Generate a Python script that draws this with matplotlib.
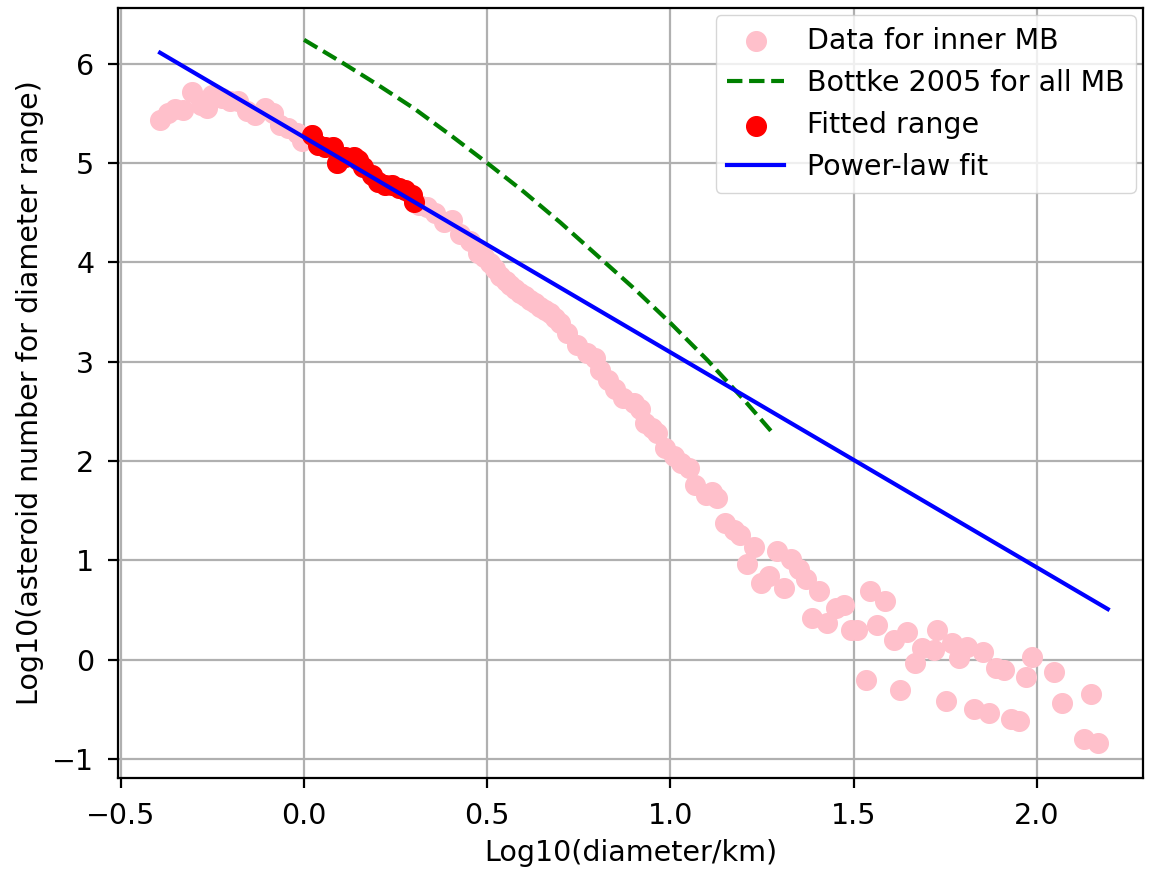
import matplotlib
matplotlib.use("Agg")
import matplotlib.pyplot as plt
import numpy as np

# pink data: log10(D/km), log10(N)
data_x = [-0.393, -0.371, -0.352, -0.330, -0.307, -0.280, -0.266, -0.252, -0.225, -0.202,
          -0.180, -0.157, -0.134, -0.107, -0.084, -0.066, -0.043, -0.020, -0.005,
          0.021, 0.039, 0.057, 0.080, 0.089, 0.112, 0.135, 0.148, 0.162, 0.185,
          0.203, 0.221, 0.240, 0.258, 0.276, 0.294, 0.299,
          0.315, 0.335, 0.358, 0.381, 0.404, 0.426, 0.454, 0.476, 0.492, 0.508,
          0.522, 0.536, 0.550, 0.563, 0.577, 0.590, 0.604, 0.617, 0.631, 0.645,
          0.658, 0.672, 0.686, 0.699, 0.718, 0.745, 0.772, 0.795, 0.809, 0.831,
          0.850, 0.872, 0.900, 0.918, 0.932, 0.950, 0.964, 0.986, 1.009, 1.030,
          1.050, 1.068, 1.096, 1.114, 1.128, 1.150, 1.173, 1.190, 1.210, 1.228,
          1.246, 1.269, 1.292, 1.310, 1.328, 1.351, 1.369, 1.387, 1.405, 1.428,
          1.451, 1.473, 1.492, 1.510, 1.533, 1.546, 1.565, 1.587, 1.610, 1.628,
          1.647, 1.669, 1.688, 1.719, 1.729, 1.751, 1.770, 1.788, 1.811, 1.829,
          1.852, 1.870, 1.888, 1.911, 1.929, 1.952, 1.970, 1.988, 2.047, 2.070,
          2.129, 2.148, 2.166]
data_y = [5.43, 5.50, 5.54, 5.53, 5.71, 5.58, 5.55, 5.68, 5.65, 5.62,
          5.62, 5.52, 5.48, 5.55, 5.50, 5.38, 5.35, 5.30, 5.22,
          5.28, 5.18, 5.16, 5.16, 5.00, 5.06, 5.06, 5.03, 4.96, 4.88,
          4.81, 4.78, 4.78, 4.75, 4.73, 4.68, 4.61,
          4.58, 4.56, 4.50, 4.41, 4.43, 4.29, 4.21, 4.09, 4.05, 3.99,
          3.93, 3.86, 3.81, 3.77, 3.73, 3.69, 3.66, 3.62, 3.59, 3.55,
          3.52, 3.49, 3.44, 3.39, 3.29, 3.17, 3.09, 3.04, 2.92, 2.82,
          2.73, 2.63, 2.58, 2.52, 2.38, 2.33, 2.28, 2.13, 2.05, 1.98,
          1.93, 1.76, 1.66, 1.69, 1.63, 1.38, 1.31, 1.26, 0.96, 1.14,
          0.77, 0.84, 1.09, 0.72, 1.01, 0.91, 0.81, 0.42, 0.69, 0.37,
          0.52, 0.55, 0.30, 0.30, -0.20, 0.69, 0.35, 0.59, 0.20, -0.30,
          0.28, -0.03, 0.12, 0.10, 0.30, -0.42, 0.17, 0.02, 0.13, -0.50,
          0.08, -0.54, -0.08, -0.10, -0.60, -0.62, -0.17, 0.03, -0.12, -0.44,
          -0.80, -0.34, -0.84]

# fitted range (red)
fit_range_x = [0.021, 0.039, 0.057, 0.080, 0.089, 0.112, 0.135, 0.148, 0.162, 0.185,
               0.203, 0.221, 0.240, 0.258, 0.276, 0.294, 0.299]
fit_range_y = [5.28, 5.18, 5.16, 5.16, 5.00, 5.06, 5.06, 5.03, 4.96, 4.88,
               4.81, 4.78, 4.78, 4.75, 4.73, 4.68, 4.61]

# Bottke 2005 curve
bottke_x = [0.0, 0.1, 0.2, 0.3, 0.4, 0.5, 0.6, 0.7, 0.8, 0.9, 1.0, 1.1, 1.2, 1.28]
bottke_y = [6.24, 6.02, 5.79, 5.55, 5.28, 5.00, 4.71, 4.40, 4.07, 3.74, 3.39, 3.02, 2.62, 2.28]

# power-law fit line
fit_x = [-0.393, 2.194]
fit_y = [6.11, 0.51]

fs = 20.5
plt.rcParams['font.size'] = fs

fig = plt.figure(figsize=(11.53, 8.72), dpi=100)
ax = fig.add_axes([0.1023, 0.1078, 0.889, 0.883])

ax.scatter(data_x, data_y, s=200, color='pink', label='Data for inner MB')
ax.plot(bottke_x, bottke_y, '--', color='g', lw=3.0, dashes=(3.7, 1.6), label='Bottke 2005 for all MB')
ax.scatter(fit_range_x, fit_range_y, s=200, color='red', label='Fitted range')
ax.plot(fit_x, fit_y, color='b', lw=3.0, label='Power-law fit')

ax.set_xlim(-0.508, 2.29)
ax.set_ylim(-1.19, 6.56)
ax.set_xticks([-0.5, 0.0, 0.5, 1.0, 1.5, 2.0])
ax.set_yticks([-1, 0, 1, 2, 3, 4, 5, 6])
ax.grid(True, lw=1.6, color='#b0b0b0')
ax.set_axisbelow(True)
for sp in ax.spines.values():
    sp.set_linewidth(1.6)
ax.tick_params(width=1.6, length=7, pad=10)

ax.set_xlabel('Log10(diameter/km)', labelpad=7)
ax.set_ylabel('Log10(asteroid number for diameter range)', labelpad=6)
ax.legend(loc='upper right', borderaxespad=0.25)

fig.savefig('out.png', dpi=100)
